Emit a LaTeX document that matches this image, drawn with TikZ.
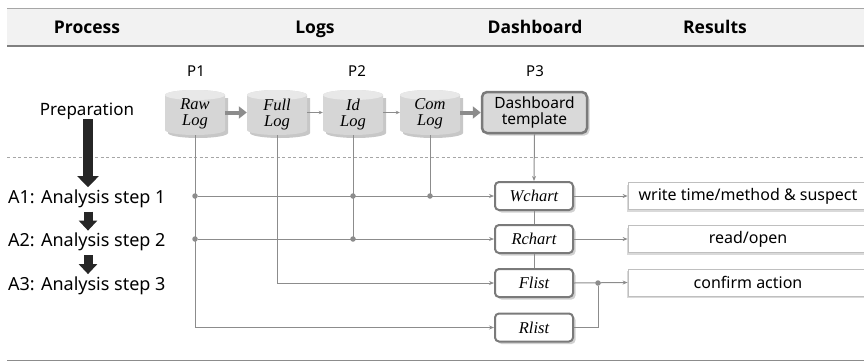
\documentclass[tikz,border=0pt]{standalone}
\usepackage{fontspec}
\setmainfont{Noto Sans}
\newfontfamily\hdrfont{Open Sans}
\newfontfamily\tnr{Liberation Serif}
\usetikzlibrary{arrows.meta,shadows,calc}
\definecolor{wirec}{HTML}{8C8C8C}
\definecolor{boxc}{HTML}{7A7A7A}
\definecolor{hdrfill}{HTML}{F2F2F2}
\definecolor{cylbody}{HTML}{D6D6D6}
\definecolor{cyltop}{HTML}{E8E8E8}
\definecolor{dashfill}{HTML}{D9D9D9}
\definecolor{blk}{HTML}{262626}
\newcommand{\mkcyl}[4]{%
  \fill[black!22] (#2-27,#3+14.5) -- (#2-27,#3-20.5) arc[start angle=180,end angle=360,x radius=30,y radius=5] -- (#2+33,#3+14.5) -- cycle;
  \fill[cylbody] (#2-30,#3+17.5) -- (#2-30,#3-17.5) arc[start angle=180,end angle=360,x radius=30,y radius=5] -- (#2+30,#3+17.5) arc[start angle=0,end angle=180,x radius=30,y radius=5] -- cycle;
  \fill[cyltop] (#2,#3+17.5) ellipse[x radius=30,y radius=5];
  \node[cyltext] (#1) at (#2,#3) {#4};}
\begin{document}
\begin{tikzpicture}[x=1pt,y=1pt,
  hdr/.style={font=\fontsize{17.5}{20}\hdrfont\bfseries, inner sep=0pt, anchor=base},
  txt/.style={font=\fontsize{17}{20}\selectfont, inner sep=0pt},
  atxt/.style={font=\fontsize{18}{20}\selectfont, inner sep=0pt, anchor=base west},
  plabel/.style={font=\fontsize{15}{18}\selectfont, inner sep=0pt, anchor=base},
  cyltext/.style={minimum width=60pt, minimum height=45pt, inner sep=0pt, align=center,
     font=\fontsize{16.5}{16}\tnr\itshape, text depth=0pt},
  dbox/.style={draw=boxc, line width=2.5pt, rounded corners=5pt, fill=dashfill,
     minimum width=105pt, minimum height=41pt, inner sep=0pt, align=center,
     font=\fontsize{15.5}{16.5}\selectfont,
     drop shadow={shadow xshift=2.5pt, shadow yshift=-2.5pt, fill=black!30, opacity=.6}},
  cbox/.style={draw=boxc, line width=2pt, rounded corners=4pt, fill=white,
     minimum width=78pt, minimum height=28pt, inner sep=0pt,
     font=\fontsize{16.5}{16}\tnr\itshape,
     drop shadow={shadow xshift=2.5pt, shadow yshift=-2.5pt, fill=black!30, opacity=.6}},
  rbox/.style={draw=black!25, line width=0.8pt, fill=white,
     minimum width=240pt, minimum height=27pt, inner sep=0pt,
     font=\fontsize{16}{16}\selectfont,
     drop shadow={shadow xshift=-1.5pt, shadow yshift=-2pt, fill=black!25, opacity=.6}},
  wire/.style={draw=wirec, line width=1pt},
  tip/.style={-{Stealth[length=5pt,width=4pt]}},
  thickarr/.style={draw=wirec, line width=4pt, -{Triangle[length=8pt,width=12pt]}},
  thinarr/.style={draw=wirec, line width=0.8pt, -{Stealth[length=4pt,width=3.5pt]}},
  dot/.style={circle, fill=wirec, inner sep=0pt, minimum size=5.5pt},
  bigarr/.style={draw=blk, line width=10pt, -{Triangle[length=11pt,width=21pt]}},
  smallarr/.style={draw=blk, line width=9pt, -{Triangle[length=10pt,width=18pt]}},
]
\useasboundingbox (0,0) rectangle (864,-362);
% header
\fill[hdrfill] (7,-8) rectangle (864,-46);
\draw[black!35, line width=1pt] (7,-8) -- (864,-8);
\draw[black!50, line width=2pt] (7,-46) -- (864,-46);
\node[hdr] (hproc) at (87,-33) {Process};
\node[hdr] (hlogs) at (315,-33) {Logs};
\node[hdr] (hdash) at (535,-33) {Dashboard};
\node[hdr] (hres) at (715,-33) {Results};
% separators
\draw[black!35, line width=0.8pt, dash pattern=on 3pt off 2.5pt] (7,-157.5) -- (864,-157.5);
\draw[black!45, line width=1.5pt] (7,-360.5) -- (864,-360.5);
% P labels
\node[plabel] (p1) at (196,-76) {P1};
\node[plabel] (p2) at (357,-76) {P2};
\node[plabel] (p3) at (535,-76) {P3};
% cylinders
\mkcyl{raw}{195}{-112.5}{Raw\\Log}
\mkcyl{full}{277}{-112.5}{Full\\Log}
\mkcyl{id}{353}{-112.5}{Id\\Log}
\mkcyl{com}{430}{-112.5}{Com\\Log}
% dashboard template
\node[dbox] (dash) at (534.5,-112.5) {Dashboard\\template};
% arrows between logs
\draw[thickarr] (raw.east) -- (full.west);
\draw[thinarr] (full.east) -- (id.west);
\draw[thinarr] (id.east) -- (com.west);
\draw[thickarr] (com.east) -- (dash.west);
% chart boxes
\node[cbox] (wc) at (534,-196) {Wchart};
\node[cbox] (rc) at (534,-239) {Rchart};
\node[cbox] (fl) at (534,-283) {Flist};
\node[cbox] (rl) at (534,-327.5) {Rlist};
% result boxes
\node[rbox] (r1) at (748,-196) {write time/method \& suspect};
\node[rbox] (r2) at (748,-239) {read/open};
\node[rbox] (r3) at (748,-282.5) {confirm action};
% wires
\draw[wire,tip] (raw.south) |- (rl.west);
\draw[wire,tip] (full.south) |- (fl.west);
\draw[wire] (id.south) -- (id.south |- rc.west);
\draw[wire] (com.south) -- (com.south |- wc.west);
\node[dot] (d1) at (raw.south |- wc.west) {};
\node[dot] (d2) at (raw.south |- rc.west) {};
\node[dot] (d3) at (id.south |- wc.west) {};
\node[dot] (d4) at (id.south |- rc.west) {};
\node[dot] (d5) at (com.south |- wc.west) {};
\draw[wire,tip] (d1) -- (wc.west);
\draw[wire,tip] (d2) -- (rc.west);
\draw[wire,tip] (dash.south) -- (wc.north);
\draw[wire] (wc.south) -- (rc.north);
\draw[wire] (rc.south) -- (fl.north);
\draw[wire,tip] (wc.east) -- (r1.west);
\draw[wire,tip] (rc.east) -- (r2.west);
\draw[wire,tip] (fl.east) -- (r3.west);
\node[dot] (j) at (598,-283) {};
\draw[wire] (rl.east) -| (j);
% left column
\node[txt, anchor=base] (prep) at (87,-115) {Preparation};
\node[atxt] (a1) at (8,-203) {A1: Analysis step 1};
\node[atxt] (a2) at (8,-246.5) {A2: Analysis step 2};
\node[atxt] (a3) at (8,-290) {A3: Analysis step 3};
\draw[bigarr] ($(prep.south)+(1,0)$) -- ($(prep.south |- a1.north)+(1,2)$);
\draw[smallarr] ($(prep.south |- a1.south)+(1,-4)$) -- ($(prep.south |- a2.north)+(1,2)$);
\draw[smallarr] ($(prep.south |- a2.south)+(1,-4)$) -- ($(prep.south |- a3.north)+(1,2)$);
\end{tikzpicture}
\end{document}
